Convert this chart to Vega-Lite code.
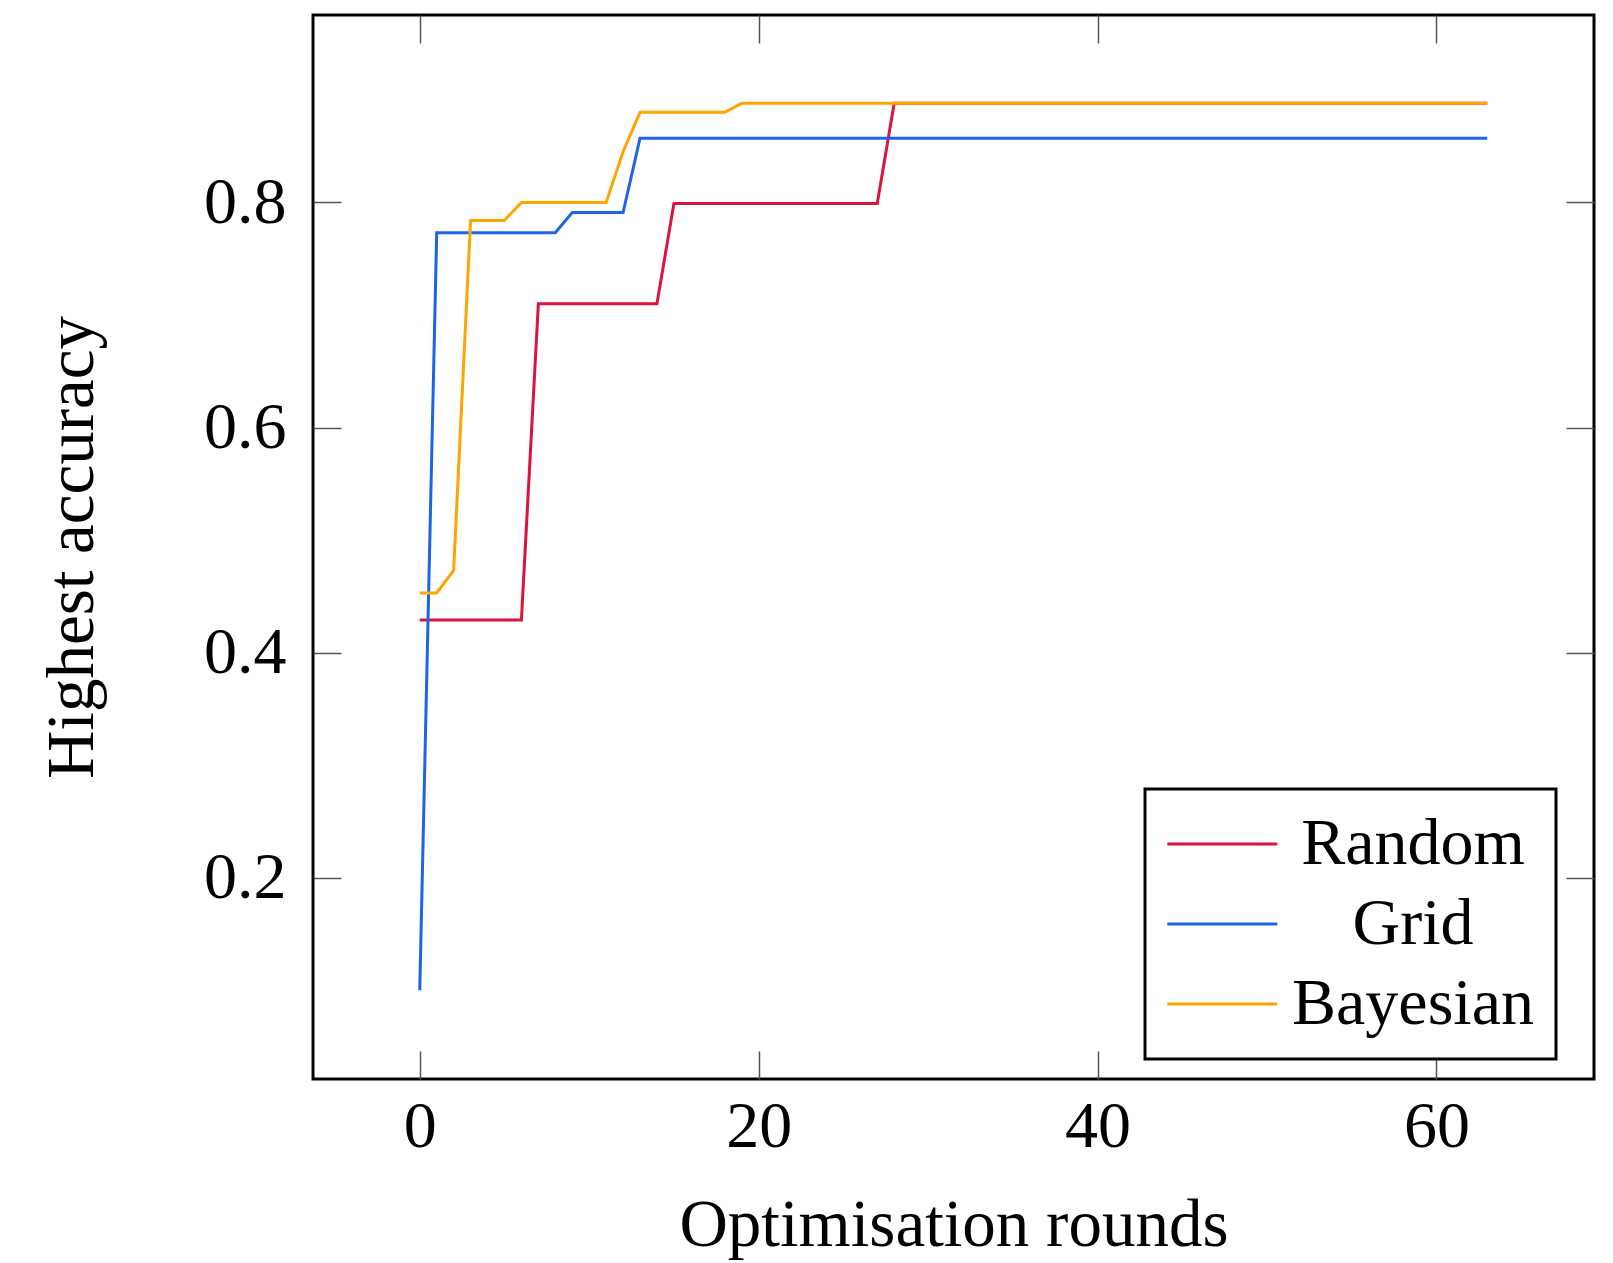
{
  "$schema": "https://vega.github.io/schema/vega-lite/v6.json",
  "width": 1281,
  "height": 1064,
  "autosize": {"type": "none"},
  "padding": {"left": 313, "top": 15, "right": 19, "bottom": 184},
  "background": "white",
  "config": {
    "view": {"stroke": "black", "strokeWidth": 3},
    "font": "Liberation Serif",
    "axis": {
      "domain": false,
      "grid": false,
      "tickSize": -28,
      "tickColor": "#555555",
      "tickWidth": 1.5,
      "labelFont": "Liberation Serif",
      "labelFontSize": 66,
      "labelColor": "black",
      "titleFont": "Liberation Serif",
      "titleFontSize": 67,
      "titleFontWeight": "normal",
      "titleColor": "black"
    }
  },
  "data": {
    "values": [
      {"method": "Random", "round": 0, "accuracy": 0.429},
      {"method": "Random", "round": 6, "accuracy": 0.429},
      {"method": "Random", "round": 7, "accuracy": 0.71},
      {"method": "Random", "round": 14, "accuracy": 0.71},
      {"method": "Random", "round": 15, "accuracy": 0.799},
      {"method": "Random", "round": 27, "accuracy": 0.799},
      {"method": "Random", "round": 28, "accuracy": 0.888},
      {"method": "Random", "round": 63, "accuracy": 0.888},
      {"method": "Grid", "round": 0, "accuracy": 0.1},
      {"method": "Grid", "round": 1, "accuracy": 0.773},
      {"method": "Grid", "round": 8, "accuracy": 0.773},
      {"method": "Grid", "round": 9, "accuracy": 0.791},
      {"method": "Grid", "round": 12, "accuracy": 0.791},
      {"method": "Grid", "round": 13, "accuracy": 0.857},
      {"method": "Grid", "round": 63, "accuracy": 0.857},
      {"method": "Bayesian", "round": 0, "accuracy": 0.453},
      {"method": "Bayesian", "round": 1, "accuracy": 0.453},
      {"method": "Bayesian", "round": 2, "accuracy": 0.473},
      {"method": "Bayesian", "round": 3, "accuracy": 0.784},
      {"method": "Bayesian", "round": 5, "accuracy": 0.784},
      {"method": "Bayesian", "round": 6, "accuracy": 0.8},
      {"method": "Bayesian", "round": 11, "accuracy": 0.8},
      {"method": "Bayesian", "round": 12, "accuracy": 0.845},
      {"method": "Bayesian", "round": 13, "accuracy": 0.88},
      {"method": "Bayesian", "round": 18, "accuracy": 0.88},
      {"method": "Bayesian", "round": 19, "accuracy": 0.888},
      {"method": "Bayesian", "round": 63, "accuracy": 0.888}
    ]
  },
  "layer": [
    {
      "mark": {"type": "line", "strokeWidth": 3},
      "encoding": {
        "x": {
          "field": "round", "type": "quantitative",
          "scale": {"domain": [-6.3, 69.3], "nice": false, "zero": false},
          "axis": {"orient": "bottom", "values": [0, 20, 40, 60], "title": "Optimisation rounds", "labelPadding": 43, "titlePadding": 33}
        },
        "y": {
          "field": "accuracy", "type": "quantitative",
          "scale": {"domain": [0.0212, 0.9665], "nice": false, "zero": false},
          "axis": {"orient": "left", "values": [0.2, 0.4, 0.6, 0.8], "format": ".1f", "title": "Highest accuracy", "labelPadding": 55, "titlePadding": 97}
        },
        "color": {
          "field": "method", "type": "nominal",
          "scale": {"domain": ["Random", "Grid", "Bayesian"], "range": ["#DC143C", "#1E64E6", "#FFA500"]},
          "legend": {
            "orient": "none", "legendX": 832, "legendY": 774,
            "title": null,
            "symbolType": "M-2.38,0H5.62", "symbolSize": 756, "symbolStrokeWidth": 3,
            "labelFont": "Liberation Serif", "labelFontSize": 66, "labelColor": "black",
            "labelAlign": "center", "labelOffset": 180, "labelLimit": 400,
            "strokeColor": "black", "fillColor": "white",
            "padding": 22, "rowPadding": 14,
            "encode": {"legend": {"update": {"strokeWidth": {"value": 3}}}}
          }
        }
      }
    },
    {
      "mark": {"type": "point", "opacity": 0},
      "encoding": {
        "x": {
          "field": "round", "type": "quantitative",
          "axis": {"orient": "top", "values": [0, 20, 40, 60], "labels": false, "title": null}
        },
        "y": {
          "field": "accuracy", "type": "quantitative",
          "axis": {"orient": "right", "values": [0.2, 0.4, 0.6, 0.8], "labels": false, "title": null}
        }
      }
    }
  ],
  "resolve": {"axis": {"x": "independent", "y": "independent"}}
}
